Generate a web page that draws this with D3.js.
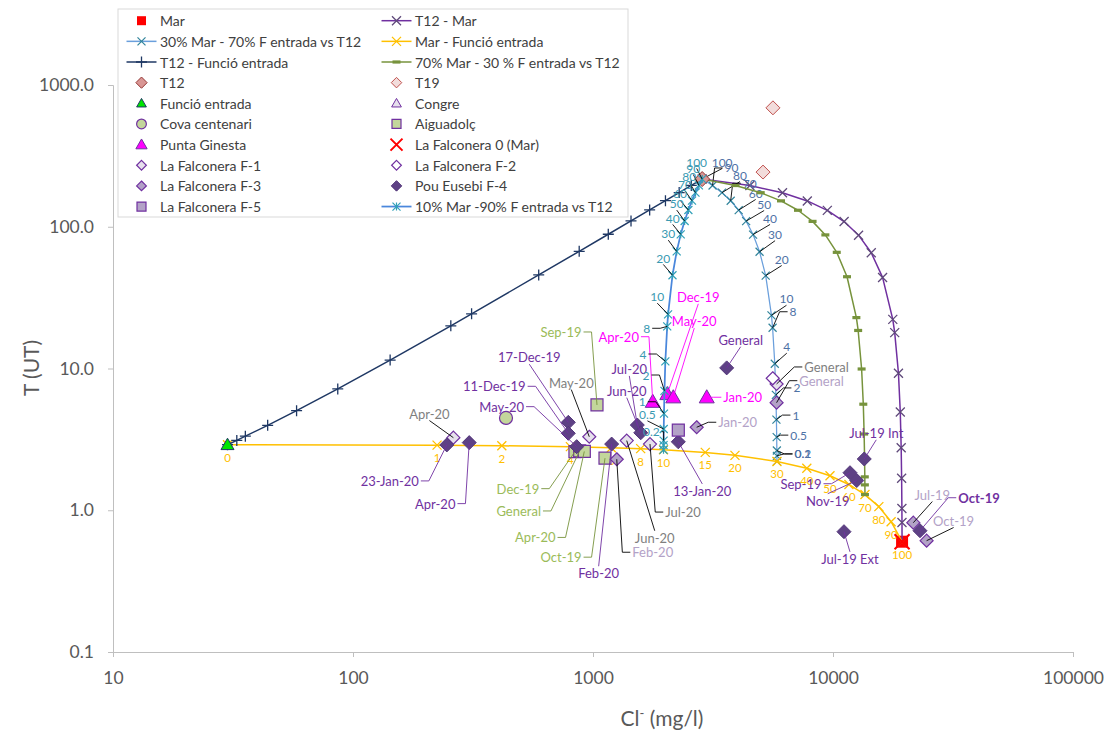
<!DOCTYPE html>
<html>
<head>
<meta charset="utf-8">
<script src="https://cdn.jsdelivr.net/npm/d3@7"></script>
<style>
  html, body { margin: 0; padding: 0; background: #ffffff; }
  svg { display: block; font-family: Lato, "Liberation Sans", sans-serif; }
</style>
</head>
<body>
<svg id="chart" width="1112" height="731"></svg>
<script>
// ---------------- data ----------------
const xTicks = [10, 100, 1000, 10000, 100000];
const yTicks = [0.1, 1, 10, 100, 1000];

// share of T12 (%) in each point of the T12 mixing lines
const t12Pct = [100, 90, 80, 70, 60, 50, 40, 30, 20, 10, 8, 4, 2, 1, 0.5, 0.2, 0.1, 0];

// T12 - Mar
const t12MarCl = [2850, 4505, 6160, 7815, 9470, 11125, 12780, 14435, 16090, 17745, 18076, 18738, 19069, 19235, 19317, 19367, 19383, 19400];
const t12MarT  = [217, 195.4, 173.7, 152.1, 130.4, 108.8, 87.2, 65.5, 43.9, 22.2, 17.9, 9.26, 4.93, 2.76, 1.68, 1.03, 0.82, 0.6];

// 30% Mar - 70% F entrada vs T12
const mix30Cl = [2850, 3149, 3448, 3747, 4046, 4346, 4645, 4944, 5243, 5542, 5602, 5721, 5781, 5811, 5826, 5835, 5838, 5841];
const mix30T  = [217, 195.5, 174.0, 152.6, 131.1, 109.6, 88.1, 66.6, 45.2, 23.7, 19.39, 10.8, 6.51, 4.36, 3.28, 2.64, 2.42, 2.21];

// Mar - Funció entrada (share of sea water, %)
const seaPct    = [0, 1, 2, 4, 6, 8, 10, 15, 20, 30, 40, 50, 60, 70, 80, 90, 100];
const marFuncCl = [30, 224, 417, 805, 1192, 1580, 1967, 2936, 3904, 5841, 7778, 9715, 11652, 13589, 15526, 17463, 19400];
const marFuncT  = [2.9, 2.88, 2.85, 2.81, 2.76, 2.72, 2.67, 2.56, 2.44, 2.21, 1.98, 1.75, 1.52, 1.29, 1.06, 0.83, 0.6];

// T12 - Funció entrada
const t12FuncCl = [2850, 2568, 2286, 2004, 1722, 1440, 1158, 876, 594, 312, 255.6, 142.8, 86.4, 58.2, 44.1, 35.6, 32.8, 30];
const t12FuncT  = [217, 195.6, 174.2, 152.8, 131.4, 110, 88.5, 67.1, 45.7, 24.3, 20.0, 11.46, 7.18, 5.04, 3.97, 3.33, 3.11, 2.9];

// 70% Mar - 30 % F entrada vs T12
const mix70Cl = [2850, 3924, 4998, 6072, 7146, 8220, 9293, 10367, 11441, 12515, 12730, 13159, 13374, 13482, 13535, 13568, 13578, 13589];
const mix70T  = [217, 195.4, 173.9, 152.3, 130.7, 109.1, 87.6, 66.0, 44.4, 22.86, 18.55, 9.92, 5.6, 3.45, 2.37, 1.72, 1.51, 1.29];

// 10% Mar - 90% F entrada vs T12
const mix10Cl = [2850, 2762, 2673, 2585, 2497, 2409, 2320, 2232, 2144, 2055, 2038, 2002, 1985, 1976, 1971, 1969, 1968, 1967];
const mix10T  = [217, 195.6, 174.1, 152.7, 131.3, 109.8, 88.4, 66.97, 45.5, 24.1, 19.82, 11.24, 6.96, 4.81, 3.74, 3.1, 2.88, 2.67];

// sampled points
const marCl = [19400], marT = [0.6];
const t12Cl = [2850], t12T = [217];
const t19Cl = [5620, 5110], t19T = [690, 243];
const funcioCl = [30], funcioT = [2.9];
const congreCl = [], congreT = [];
const covaCl = [434], covaT = [4.48];

const aiguaNames = ["Sep-19", "Dec-19", "General", "Apr-20", "Oct-19"];
const aiguaCl = [1039, 841, 880, 920, 1122];
const aiguaT  = [5.53, 2.59, 2.62, 2.6, 2.33];

const puntaNames = ["Dec-19", "May-20", "Apr-20", "Jan-20"];
const puntaCl = [2040, 2160, 1774, 2978];
const puntaT  = [6.61, 6.27, 5.83, 6.27];

const falc0Cl = [19400], falc0T = [0.6];

const f1Names = ["Apr-20", "May-20", "Jun-20", "Jul-20", "General"];
const f1Cl = [262, 965, 1382, 1728, 5821];
const f1T  = [3.25, 3.3, 3.1, 2.93, 7.78];

const f2Cl = [5609], f2T = [8.53];

const f3Names = ["Jan-20", "Feb-20", "General", "Jul-19", "Oct-19"];
const f3Cl = [2704, 1256, 5821, 21610, 24550];
const f3T  = [3.85, 2.29, 5.74, 0.817, 0.61];

const f4Names = ["17-Dec-19", "11-Dec-19", "May-20", "23-Jan-20", "Apr-20", "Feb-20", "Jul-20", "Jun-20",
                 "13-Jan-20", "General", "Jul-19 Int", "Sep-19", "Nov-19", "Jul-19 Ext", "Oct-19"];
const f4Cl = [789, 789, 855, 246, 305, 1196, 1530, 1581, 2267, 3606, 13500, 11770, 12560, 11110, 23040];
const f4T  = [4.17, 3.49, 2.81, 2.89, 3.0, 2.93, 3.99, 3.52, 3.04, 10.1, 2.3, 1.84, 1.62, 0.706, 0.717];

const f5Cl = [2267], f5T = [3.68];

// ---------------- label placement (pixel offsets from the point) ----------------
const mix30LabelPos = [[20,-17],[19,-17.5],[18,-17.5],[19,-17.5],[17,-17],[18,-17],[17,-16.5],[15.5,-17.5],[16,-16.5],
                       [15,-16.5],[20.5,-16],[12,-17],[21,-7],[19.5,-4.5],[22,-2],[26,3.5],[26,-2],null];
const mix10LabelPos = [[-5.5,-17],[-5.6,-17.4],[-6.2,-16.6],[-7,-16.4],[-8.4,-16.3],[-7.9,-17.3],[-8,-16.3],[-8.4,-17.7],
                       [-9.2,-17.2],[-10.8,-17.6],[-20.5,1.9],[-22.4,-7.3],[-18.5,-15.8],[-21.7,-11.8],[-16.3,-14.6],[-12.3,-8.9],null,null];
const aiguaLabelPos = [[-36,-73],[-57,37],[-61,60],[-49,86],[-44,99]];
const puntaLabelPos = [[31,-97],[21,-76],[-34,-65],[36,0]];
const f1LabelPos = [[-24,-24],[-18,-54],[28,97],[33,68],[50,-17]];
const f3LabelPos = [[41,-5],[36,93],[45,-22],[19,-28],[27,-20]];
const f4LabelPos = [[-39,-65],[-74,-47],[-75,-40],[-57,36],[-34,61],[-13,129],[-8,-56],[-14,-42],
                    [24,49],[14,-28],[12,-26],[-49,11],[-29,20],[6,27],[59,-33,"bold"]];

// ---------------- styles ----------------
const S = {
  mar:     { sym: "square",   size: 12, fill: "#ff0000", stroke: "none" },
  t12Mar:  { line: "#7030a0", lw: 1.5,  sym: "x", size: 9, stroke: "#5f497a", sw: 1.3 },
  mix30:   { line: "#6a9fdc", lw: 1.25, sym: "x", size: 8, stroke: "#31849b", sw: 1.2 },
  marFunc: { line: "#ffc000", lw: 1.5,  sym: "x", size: 9, stroke: "#ffc000", sw: 1.3 },
  t12Func: { line: "#1f3864", lw: 1.5,  sym: "plus", size: 11, stroke: "#1f3864", sw: 1.3 },
  mix70:   { line: "#77933c", lw: 1.5,  sym: "dash", size: 8, fill: "#77933c", stroke: "none" },
  t12:     { sym: "diamond",  size: 15, fill: "#d99694", stroke: "#953735", sw: 1 },
  t19:     { sym: "diamond",  size: 14, fill: "#f2dcdb", stroke: "#c0504d", sw: 1 },
  funcio:  { sym: "triangle", size: 13, fill: "#00e600", stroke: "#1f3864", sw: 1 },
  congre:  { sym: "triangle", size: 13, fill: "#e6e0ec", stroke: "#7030a0", sw: 1 },
  cova:    { sym: "circle",   size: 13, fill: "#c3d69b", stroke: "#7030a0", sw: 1.2 },
  aigua:   { sym: "square",   size: 12, fill: "#c3d69b", stroke: "#7030a0", sw: 1.2 },
  punta:   { sym: "triangle", size: 15, fill: "#ff00ff", stroke: "#7030a0", sw: 1 },
  falc0:   { sym: "x",        size: 15, stroke: "#ff0000", sw: 2 },
  f1:      { sym: "diamond",  size: 13, fill: "#e6e0ec", stroke: "#7030a0", sw: 1.2 },
  f2:      { sym: "diamond",  size: 13, fill: "#ffffff", stroke: "#7030a0", sw: 1.2 },
  f3:      { sym: "diamond",  size: 13, fill: "#b3a2c7", stroke: "#7030a0", sw: 1.2 },
  f4:      { sym: "diamond",  size: 14, fill: "#5e4185", stroke: "#53377a", sw: 1 },
  f5:      { sym: "square",   size: 12, fill: "#b3a2c7", stroke: "#7030a0", sw: 1.2 },
  mix10:   { line: "#4a87dc", lw: 1.75, sym: "star", size: 8, stroke: "#31a0b8", sw: 1.2 }
};

// ---------------- chart ----------------
const svg = d3.select("#chart");
const x = d3.scaleLog().domain([10, 100000]).range([113, 1073]);
const y = d3.scaleLog().domain([0.1, 1000]).range([652, 85]);

const axisColor = "#bfbfbf", textColor = "#595959";

const gx = svg.append("g").attr("transform", "translate(0,652)")
  .call(d3.axisBottom(x).tickValues(xTicks).tickFormat(d3.format("d")).tickSizeOuter(0).tickSize(5).tickPadding(15));
const gy = svg.append("g").attr("transform", "translate(113,0)")
  .call(d3.axisLeft(y).tickValues(yTicks).tickFormat(d3.format(".1f")).tickSizeOuter(0).tickSize(5).tickPadding(14));
[gx, gy].forEach(g => {
  g.select(".domain").attr("stroke", axisColor);
  g.selectAll(".tick line").attr("stroke", axisColor);
  g.selectAll(".tick text").attr("fill", textColor).attr("font-size", 17.5).attr("font-family", "Lato, sans-serif");
});

// axis titles
const xt = svg.append("text").attr("x", 662).attr("y", 726).attr("text-anchor", "middle")
  .attr("font-size", 21).attr("fill", textColor);
xt.append("tspan").text("Cl");
xt.append("tspan").attr("dy", -8).attr("font-size", 13).text("-");
xt.append("tspan").attr("dy", 8).text(" (mg/l)");
svg.append("text").attr("transform", "translate(30,368) rotate(-90)").attr("text-anchor", "middle")
  .attr("dominant-baseline", "central").attr("font-size", 21).attr("fill", textColor).text("T (UT)");

const plot = svg.append("g");

function markerPath(sym, s) {
  const h = s / 2;
  switch (sym) {
    case "square":   return `M${-h},${-h}H${h}V${h}H${-h}Z`;
    case "diamond":  return `M0,${-h}L${h},0L0,${h}L${-h},0Z`;
    case "triangle": return `M0,${-h}L${h},${h * 0.75}L${-h},${h * 0.75}Z`;
    case "x":        return `M${-h},${-h}L${h},${h}M${-h},${h}L${h},${-h}`;
    case "plus":     return `M${-h},0H${h}M0,${-h}V${h}`;
    case "star":     return `M${-h},${-h}L${h},${h}M${-h},${h}L${h},${-h}M0,${-h}V${h}`;
    case "dash":     return `M${-h},-1.6H${h}V1.6H${-h}Z`;
    case "circle":   return `M${h},0A${h},${h} 0 1,1 ${-h},0A${h},${h} 0 1,1 ${h},0Z`;
  }
}

function drawMarker(g, px, py, st, scale = 1) {
  const open = ["x", "plus", "star"].includes(st.sym);
  g.append("path")
    .attr("transform", `translate(${px},${py})`)
    .attr("d", markerPath(st.sym, st.size * scale))
    .attr("fill", open ? "none" : (st.fill || "none"))
    .attr("stroke", st.stroke || "none")
    .attr("stroke-width", st.sw || 1);
}

function drawSeries(cl, t, st) {
  const g = plot.append("g");
  const pts = cl.map((c, i) => [x(c), y(t[i])]);
  if (st.line && pts.length) {
    g.append("path").attr("d", d3.line()(pts)).attr("fill", "none")
      .attr("stroke", st.line).attr("stroke-width", st.lw).attr("stroke-linejoin", "round");
  }
  pts.forEach(p => drawMarker(g, p[0], p[1], st));
  return pts;
}

function drawLabels(pts, texts, offsets, opt) {
  const g = plot.append("g");
  texts.forEach((txt, i) => {
    const off = offsets[i];
    if (!off || txt == null) return;
    const [mx, my] = pts[i];
    const cx = mx + off[0], cy = my + off[1];
    const t = g.append("text").attr("x", cx).attr("y", cy)
      .attr("text-anchor", "middle").attr("dominant-baseline", "central")
      .attr("font-size", opt.size).attr("fill", opt.color)
      .attr("font-weight", off[2] || "normal").text(txt);
    if (!opt.leader) return;
    const w = t.node().getComputedTextLength();
    const hh = opt.size * 0.45;
    const l = cx - w / 2, r = cx + w / 2, top = cy - hh, bot = cy + hh;
    const dx = mx < l ? l - mx : (mx > r ? mx - r : 0);
    const dy = my < top ? top - my : (my > bot ? my - bot : 0);
    if (Math.hypot(dx, dy) < 5) return;
    let path;
    if (dx > 12 || dx > dy) {
      const left = mx < l;
      const sx = left ? l - 2 : r + 2;
      const ex = left ? Math.max(sx - 8, mx) : Math.min(sx + 8, mx);
      path = [[sx, cy], [ex, cy], [mx, my]];
    } else {
      const sy = my < top ? top - 1 : bot + 1;
      path = [[cx, sy], [mx, my]];
    }
    g.insert("path", "text").attr("d", d3.line()(path)).attr("fill", "none")
      .attr("stroke", opt.leader).attr("stroke-width", 0.9);
  });
}

// series in drawing order
drawSeries(marCl, marT, S.mar);
drawSeries(t12MarCl, t12MarT, S.t12Mar);
const p30 = drawSeries(mix30Cl, mix30T, S.mix30);
drawLabels(p30, t12Pct.map(String), mix30LabelPos, { size: 12, color: "#4e72a6", leader: "#000000" });
const pMF = drawSeries(marFuncCl, marFuncT, S.marFunc);
drawLabels(pMF, seaPct.map(String), seaPct.map(() => [0, 12.5]), { size: 11.5, color: "#ffc000" });
drawSeries(t12FuncCl, t12FuncT, S.t12Func);
drawSeries(mix70Cl, mix70T, S.mix70);
drawSeries(t12Cl, t12T, S.t12);
drawSeries(t19Cl, t19T, S.t19);
drawSeries(funcioCl, funcioT, S.funcio);
drawSeries(congreCl, congreT, S.congre);
drawSeries(covaCl, covaT, S.cova);
const pAg = drawSeries(aiguaCl, aiguaT, S.aigua);
drawLabels(pAg, aiguaNames, aiguaLabelPos, { size: 13, color: "#9bbb59", leader: "#77933c" });
const pPG = drawSeries(puntaCl, puntaT, S.punta);
drawLabels(pPG, puntaNames, puntaLabelPos, { size: 13, color: "#ff00ff", leader: "#ff00ff" });
drawSeries(falc0Cl, falc0T, S.falc0);
const pF1 = drawSeries(f1Cl, f1T, S.f1);
drawLabels(pF1, f1Names, f1LabelPos, { size: 13, color: "#7f7f7f", leader: "#000000" });
drawSeries(f2Cl, f2T, S.f2);
const pF3 = drawSeries(f3Cl, f3T, S.f3);
drawLabels(pF3, f3Names, f3LabelPos, { size: 13, color: "#b3a2c7", leader: "#000000" });
const pF4 = drawSeries(f4Cl, f4T, S.f4);
drawLabels(pF4, f4Names, f4LabelPos, { size: 13, color: "#7030a0", leader: "#7030a0" });
drawSeries(f5Cl, f5T, S.f5);
const p10 = drawSeries(mix10Cl, mix10T, S.mix10);
drawLabels(p10, t12Pct.map(String), mix10LabelPos, { size: 12, color: "#3a9ab2", leader: "#000000" });

// ---------------- legend ----------------
const legendLeft = [
  ["Mar", S.mar], ["30% Mar - 70% F entrada vs T12", S.mix30], ["T12 - Funció entrada", S.t12Func],
  ["T12", S.t12], ["Funció entrada", S.funcio], ["Cova centenari", S.cova], ["Punta Ginesta", S.punta],
  ["La Falconera F-1", S.f1], ["La Falconera F-3", S.f3], ["La Falconera F-5", S.f5]
];
const legendRight = [
  ["T12 - Mar", S.t12Mar], ["Mar - Funció entrada", S.marFunc], ["70% Mar - 30 % F entrada vs T12", S.mix70],
  ["T19", S.t19], ["Congre", S.congre], ["Aiguadolç", S.aigua], ["La Falconera 0 (Mar)", S.falc0],
  ["La Falconera F-2", S.f2], ["Pou Eusebi F-4", S.f4], ["10% Mar -90% F entrada vs T12", S.mix10]
];
const lg = svg.append("g");
lg.append("rect").attr("x", 118).attr("y", 9).attr("width", 510).attr("height", 208)
  .attr("fill", "#ffffff").attr("stroke", "#d9d9d9");
function legendColumn(items, sx, tx) {
  items.forEach(([name, st], i) => {
    const ry = 20.7 + i * 20.65;
    if (st.line) {
      lg.append("line").attr("x1", sx - 15).attr("x2", sx + 15).attr("y1", ry).attr("y2", ry)
        .attr("stroke", st.line).attr("stroke-width", Math.max(st.lw, 1.5));
    }
    const sc = st.line ? 1 : (st.sym === "x" ? 0.8 : 0.75);
    drawMarker(lg, sx, ry, st, sc);
    lg.append("text").attr("x", tx).attr("y", ry).attr("dominant-baseline", "central")
      .attr("font-size", 14).attr("fill", "#404040").text(name);
  });
}
legendColumn(legendLeft, 141.5, 160);
legendColumn(legendRight, 396.5, 415);
</script>
</body>
</html>
